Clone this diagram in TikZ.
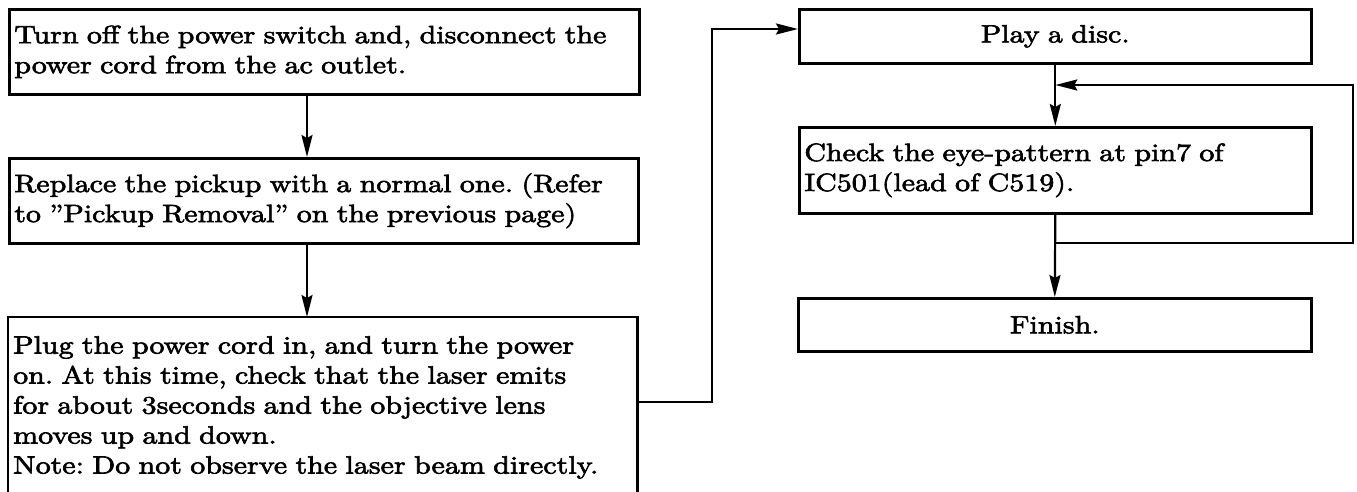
\documentclass[tikz,border=0pt]{standalone}
\usepackage{fontspec}
\setmainfont{lmroman10-regular.otf}[FakeStretch=1.2,FakeBold=2.5]
\usetikzlibrary{arrows.meta}
\begin{document}
\frenchspacing
\begin{tikzpicture}[x=1pt,y=-1pt,
  txt/.style={font=\fontsize{25pt}{30pt}\selectfont, align=left, inner xsep=5pt},
  stepbox/.style={txt, draw, line width=2.6pt, anchor=north west},
  border/.style={line width=2.6pt},
  arr/.style={line width=2.2pt, -{Stealth[length=22pt,width=11pt,inset=3pt]}}]
\useasboundingbox (0,0) rectangle (1357,492);
% left column
\node[stepbox, text width=620pt, minimum height=85pt] (b1) at (8,8)
  {Turn off the power switch and, disconnect the\\power cord from the ac outlet.};
\node[stepbox, text width=619pt, minimum height=85pt] (b2) at (8,157)
  {Replace the pickup with a normal one. (Refer\\to "Pickup Removal'' on the previous page)};
\node[txt, anchor=north west, text width=619pt, inner ysep=19pt] (b3) at (8,317)
  {Plug the power cord in, and turn the power\\on. At this time, check that the laser emits\\for about 3seconds and the objective lens\\moves up and down.\\Note: Do not observe the laser beam directly.};
\coordinate (bot) at (0,510);
\draw[border] (b3.north west |- bot) -- (b3.north west) -- (b3.north east) -- (b3.north east |- bot);
% right column
\node[stepbox, text width=502pt, minimum height=54pt, align=center] (play) at (798,8) {Play a disc.};
\node[stepbox, text width=502pt, minimum height=86pt] (chk) at (798,126)
  {Check the eye-pattern at pin7 of\\IC501(lead of C519).};
\node[stepbox, text width=503pt, minimum height=53pt, align=center] (fin) at (797,297) {Finish.};
% connectors
\coordinate (colL) at (307,0);
\draw[arr] (b1.south -| colL) -- (b2.north -| colL);
\draw[arr] (b2.south -| colL) -- (b3.north -| colL);
\coordinate (j1) at (712,402);
\coordinate (j2) at (712,29);
\draw[arr] (b3.east |- j1) -- (j1) -- (j2) -- (j2 -| play.west);
\draw[arr] (play.south) -- (chk.north);
\draw[arr] (chk.south) -- (fin.north);
\coordinate (lp1) at (1353,243);
\coordinate (lp2) at (1353,85);
\draw[arr] (chk.south |- lp1) -- (lp1) -- (lp2) -- (lp2 -| chk.north);
\end{tikzpicture}
\end{document}
